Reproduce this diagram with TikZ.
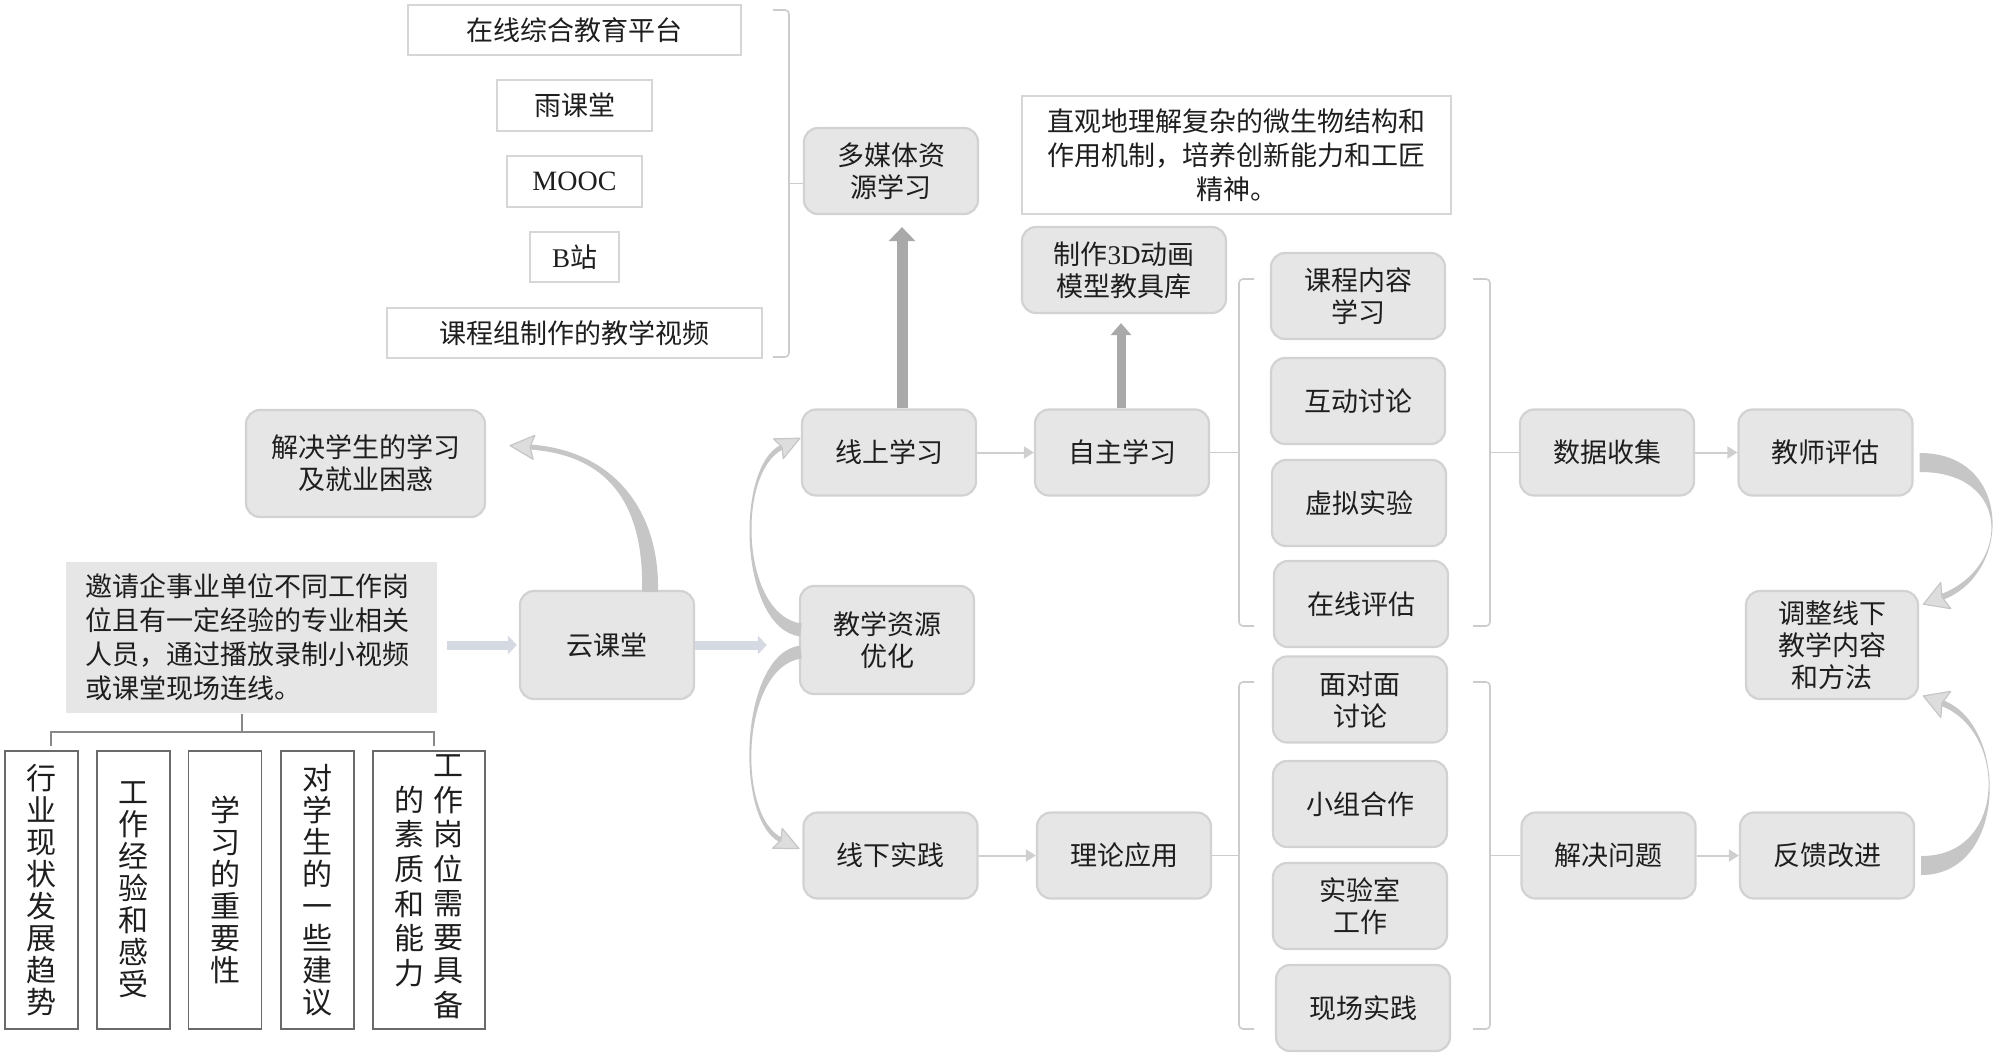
\documentclass[tikz,border=0pt]{standalone}
\usepackage{fontspec}
\setmainfont{Noto Sans CJK SC}
\newfontfamily\latinf{Liberation Serif}
\usetikzlibrary{arrows.meta,calc}
\definecolor{boxfill}{HTML}{E6E6E6}
\definecolor{boxdraw}{HTML}{D2D2D2}
\definecolor{txt}{HTML}{1E1E1E}
\definecolor{thinarr}{HTML}{CFCFCF}
\definecolor{bigarr}{HTML}{A9A9A9}
\definecolor{bluearr}{HTML}{D5D9E1}
\definecolor{curvecol}{HTML}{C6C6C6}
\definecolor{headfill}{HTML}{DDDDDD}
\definecolor{wdraw}{HTML}{D6D6D6}
\definecolor{vdraw}{HTML}{6A6A6A}
\definecolor{brkcol}{HTML}{CCCCCC}
\newcommand\taperarrow[7]{%
  \coordinate (tp0) at #1; \coordinate (tc1) at #2; \coordinate (tc2) at #3; \coordinate (tp3) at #4;
  \coordinate (ta0) at ($(tp0)!#5!90:(tc1)$);
  \coordinate (tb0) at ($(tp0)!#5!-90:(tc1)$);
  \coordinate (ta1) at ($(tc1)+(ta0)-(tp0)$);
  \coordinate (tb1) at ($(tc1)+(tb0)-(tp0)$);
  \coordinate (ta3) at ($(tp3)!#6!-90:(tc2)$);
  \coordinate (tb3) at ($(tp3)!#6!90:(tc2)$);
  \coordinate (ta2) at ($(tc2)+(ta3)-(tp3)$);
  \coordinate (tb2) at ($(tc2)+(tb3)-(tp3)$);
  \fill[curvecol] (ta0) .. controls (ta1) and (ta2) .. (ta3) -- (tb3) .. controls (tb2) and (tb1) .. (tb0) -- cycle;
  \coordinate (tback) at ($(tp3)!4pt!(tc2)$);
  \coordinate (th1) at ($(tback)!#7!-90:(tc2)$);
  \coordinate (th2) at ($(tback)!#7!90:(tc2)$);
  \coordinate (ttip) at ($(tp3)!20pt!180:(tc2)$);
  \filldraw[fill=headfill, draw=curvecol, line width=1.2pt, line join=round] (ttip) -- (th1) -- (tp3) -- (th2) -- cycle;
}
\begin{document}
\begin{tikzpicture}[x=1pt,y=-1pt,
  gbox/.style={rounded corners=14pt, fill=boxfill, draw=boxdraw, line width=2.2pt, align=center, inner sep=0pt, font=\fontsize{27}{32}\selectfont, text=txt, minimum width=174pt, minimum height=86pt},
  wbox/.style={fill=white, draw=wdraw, line width=1.6pt, align=center, inner sep=0pt, font=\fontsize{27}{32}\selectfont, text=txt, minimum height=50pt},
  vbox/.style={fill=white, draw=vdraw, line width=1.6pt, align=center, inner sep=0pt, font=\fontsize{30}{32}\selectfont, text=txt, minimum width=73pt, minimum height=278pt},
  thinarrow/.style={draw=thinarr, line width=2pt, -{Triangle[length=10pt,width=12pt]}},
  bigarrow/.style={draw=bigarr, line width=11pt, -{Triangle[length=14pt,width=26pt]}},
  bluearrow/.style={draw=bluearr, line width=9pt, -{Triangle[length=9pt,width=18pt]}},
  brk/.style={draw=brkcol, line width=1.6pt, rounded corners=4pt},
  brkdark/.style={draw=vdraw!80, line width=1.6pt}
]
\useasboundingbox (0,0) rectangle (2000,1061);

% top list
\node[wbox, minimum width=333pt] (plat) at (574.5,30) {在线综合教育平台};
\node[wbox, minimum width=155pt, minimum height=51pt] (yu) at (574.5,105.5) {雨课堂};
\node[wbox, minimum width=135pt, minimum height=51pt, font=\fontsize{28}{32}\latinf] (mooc) at (574.5,181.5) {MOOC};
\node[wbox, minimum width=89pt] (bz) at (574.5,257) {{\latinf B}站};
\node[wbox, minimum width=375pt] (vid) at (574.5,333) {课程组制作的教学视频};

\node[gbox] (multi) at (891,171) {多媒体资\\源学习};
\coordinate (lbm) at (789,183.5);
\draw[brk] (773,10) -- (789,10) -- (789,357) -- (773,357);
\draw[brk] (lbm) -- (lbm -| multi.west);

% left side
\node[gbox, minimum width=239pt, minimum height=107pt] (jiejue) at (365.5,463.5) {解决学生的学习\\及就业困惑};
\node[fill=boxfill, inner sep=0pt, minimum width=371pt, minimum height=151pt, text width=332pt, align=left, font=\fontsize{27}{34}\selectfont, text=txt] (yaoqing) at (251.5,637.5) {邀请企事业单位不同工作岗\\位且有一定经验的专业相关\\人员，通过播放录制小视频\\或课堂现场连线。};
\node[gbox, minimum height=108pt] (yun) at (607,645) {云课堂};

\draw[brkdark] (51,746) -- (51,732) -- (434,732) -- (434,746);
\draw[brkdark] (242,732) -- (242,714);

\node[vbox] (v1) at (41.5,890) {行\\业\\现\\状\\发\\展\\趋\\势};
\node[vbox] (v2) at (133.5,890) {工\\作\\经\\验\\和\\感\\受};
\node[vbox] (v3) at (225,890) {学\\习\\的\\重\\要\\性};
\node[vbox] (v4) at (317.5,890) {对\\学\\生\\的\\一\\些\\建\\议};
\node[vbox, minimum width=112pt] (v5) at (429,890) {\begin{tabular}{@{}c@{\hspace{9pt}}c@{}}\begin{tabular}{@{}c@{}}的\\素\\质\\和\\能\\力\end{tabular} & \begin{tabular}{@{}c@{}}工\\作\\岗\\位\\需\\要\\具\\备\end{tabular}\end{tabular}};

% middle column
\node[gbox] (online) at (889,452.5) {线上学习};
\node[gbox, minimum height=108pt] (youhua) at (887,640) {教学资源\\优化};
\node[gbox] (xianxia) at (890.5,855.5) {线下实践};

\node[fill=white, draw=wdraw, line width=1.6pt, inner sep=0pt, minimum width=429pt, minimum height=118pt, align=center, font=\fontsize{27}{34}\selectfont, text=txt] (zhiguan) at (1236.5,155) {直观地理解复杂的微生物结构和\\作用机制，培养创新能力和工匠\\精神。};
\node[gbox, minimum width=204pt] (make3d) at (1124,270) {制作{\latinf 3D}动画\\模型教具库};
\node[gbox] (zizhu) at (1122,452.5) {自主学习};
\node[gbox] (lilun) at (1124,855.5) {理论应用};

\node[gbox] (kc) at (1358,296) {课程内容\\学习};
\node[gbox] (hd) at (1358,401) {互动讨论};
\node[gbox] (xn) at (1359,503) {虚拟实验};
\node[gbox] (zx) at (1361,604) {在线评估};

\node[gbox] (mm) at (1360,699.5) {面对面\\讨论};
\node[gbox] (xz) at (1360,804) {小组合作};
\node[gbox] (sy) at (1360,906) {实验室\\工作};
\node[gbox] (xc) at (1363,1008) {现场实践};

\node[gbox] (shuju) at (1607,452.5) {数据收集};
\node[gbox] (jiaoshi) at (1825.5,452.5) {教师评估};
\node[gbox, minimum width=172pt, minimum height=108pt] (tiaozheng) at (1832,645) {调整线下\\教学内容\\和方法};
\node[gbox] (wenti) at (1608.5,855.5) {解决问题};
\node[gbox] (fankui) at (1827,855.5) {反馈改进};

% brackets for groups
\draw[brk] (1254,279) -- (1239,279) -- (1239,626) -- (1254,626);
\draw[brk] (1473,279) -- (1490,279) -- (1490,626) -- (1473,626);
\draw[brk] (1254,682) -- (1239,682) -- (1239,1029) -- (1254,1029);
\draw[brk] (1473,682) -- (1490,682) -- (1490,1029) -- (1473,1029);
\coordinate (g1l) at (1239,452.5);
\coordinate (g1r) at (1490,452.5);
\coordinate (g2l) at (1239,855.5);
\coordinate (g2r) at (1490,855.5);
\draw[brk] (zizhu.east) -- (g1l);
\draw[brk] (g1r) -- (shuju.west);
\draw[brk] (lilun.east) -- (g2l);
\draw[brk] (g2r) -- (wenti.west);

% thin arrows
\draw[thinarrow] (online.east) -- (zizhu.west);
\draw[thinarrow] (xianxia.east) -- (lilun.west);
\draw[thinarrow] (shuju.east) -- (jiaoshi.west);
\draw[thinarrow] (wenti.east) -- (fankui.west);

% big up arrows
\draw[bigarrow, shorten >=12pt] ([xshift=13pt]online.north) -- ([xshift=11pt]multi.south);
\draw[bigarrow, line width=9pt, -{Triangle[length=12pt,width=20pt]}, shorten >=9pt] ([xshift=-1pt]zizhu.north) -- ([xshift=-3pt]make3d.south);

% blue arrows
\draw[bluearrow, shorten <=10pt, shorten >=2pt] (yaoqing.east |- yun.west) -- (yun.west);
\draw[bluearrow, shorten >=32pt] (yun.east) -- (yun.east -| youhua.west);

% tapered curved arrows
\taperarrow{($(yun.north)+(43,2)$)}{(652,512)}{(615,453)}{(530,447)}{8pt}{2.5pt}{12pt}
\taperarrow{($(youhua.west)+(2,-10)$)}{(740,622)}{(735,470)}{(782,447)}{6.5pt}{2.5pt}{11pt}
\taperarrow{($(youhua.west)+(2,12)$)}{(740,660)}{(735,818)}{(781,840)}{6.5pt}{2.5pt}{11pt}
\taperarrow{($(jiaoshi.east)+(6,10)$)}{(2012,462)}{(2012,570)}{(1942,597)}{9.5pt}{3pt}{14pt}
\taperarrow{($(fankui.east)+(6,10)$)}{(2008,866)}{(2008,728)}{(1942,703)}{9.5pt}{3pt}{14pt}
\end{tikzpicture}
\end{document}
